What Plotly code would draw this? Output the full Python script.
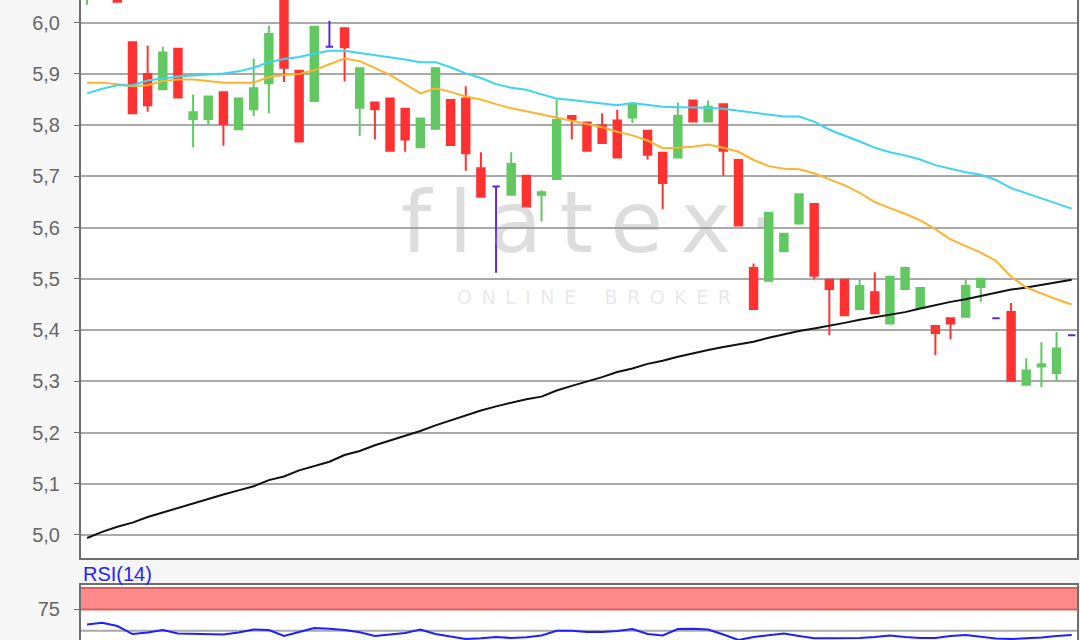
import plotly.graph_objects as go

# ---------------- data ----------------
open_ = [6.060, 6.100, 6.075, 5.962, 5.900, 5.870, 5.949, 5.812, 5.812, 5.864,
         5.792, 5.831, 5.882, 6.060, 5.906, 5.847, 5.953, 5.989, 5.834, 5.844,
         5.852, 5.832, 5.757, 5.793, 5.849, 5.852, 5.716, 5.680, 5.664, 5.701,
         5.664, 5.695, 5.818, 5.805, 5.800, 5.809, 5.815, 5.789, 5.746, 5.737,
         5.848, 5.807, 5.841, 5.732, 5.521, 5.496, 5.554, 5.608, 5.646, 5.498,
         5.498, 5.441, 5.474, 5.413, 5.480, 5.443, 5.408, 5.423, 5.426, 5.484,
         5.423, 5.435, 5.293, 5.329, 5.316, 5.390]
high_ = [6.110, 6.120, 6.080, 5.962, 5.955, 5.953, 5.949, 5.860, 5.856, 5.864,
         5.852, 5.930, 5.994, 6.070, 5.906, 5.992, 6.004, 5.989, 5.911, 5.844,
         5.852, 5.832, 5.813, 5.911, 5.849, 5.876, 5.747, 5.680, 5.747, 5.701,
         5.673, 5.850, 5.818, 5.805, 5.823, 5.830, 5.843, 5.789, 5.746, 5.844,
         5.848, 5.848, 5.841, 5.732, 5.530, 5.629, 5.588, 5.665, 5.646, 5.498,
         5.498, 5.498, 5.513, 5.504, 5.521, 5.482, 5.408, 5.423, 5.498, 5.500,
         5.423, 5.453, 5.345, 5.376, 5.396, 5.390]
low_ = [6.035, 6.070, 6.041, 5.823, 5.826, 5.870, 5.854, 5.757, 5.800, 5.760,
        5.792, 5.818, 5.823, 5.884, 5.768, 5.847, 5.953, 5.885, 5.779, 5.772,
        5.750, 5.748, 5.757, 5.793, 5.761, 5.711, 5.660, 5.512, 5.664, 5.641,
        5.612, 5.695, 5.772, 5.750, 5.765, 5.737, 5.804, 5.733, 5.636, 5.737,
        5.807, 5.807, 5.701, 5.604, 5.441, 5.496, 5.554, 5.608, 5.499, 5.390,
        5.429, 5.441, 5.433, 5.413, 5.480, 5.443, 5.351, 5.382, 5.426, 5.455,
        5.423, 5.301, 5.293, 5.289, 5.301, 5.390]
close_ = [6.090, 6.080, 6.041, 5.823, 5.839, 5.942, 5.854, 5.825, 5.856, 5.802,
          5.852, 5.872, 5.978, 5.912, 5.768, 5.992, 5.953, 5.952, 5.911, 5.831,
          5.750, 5.772, 5.813, 5.911, 5.761, 5.745, 5.660, 5.680, 5.724, 5.641,
          5.669, 5.810, 5.811, 5.750, 5.765, 5.737, 5.841, 5.742, 5.687, 5.818,
          5.807, 5.836, 5.750, 5.604, 5.441, 5.629, 5.588, 5.665, 5.506, 5.480,
          5.429, 5.486, 5.433, 5.504, 5.521, 5.482, 5.394, 5.413, 5.486, 5.500,
          5.423, 5.301, 5.321, 5.333, 5.364, 5.390]

ma_cyan = [5.862, 5.871, 5.878, 5.878, 5.887, 5.891, 5.895, 5.897, 5.899, 5.901,
           5.905, 5.912, 5.923, 5.929, 5.933, 5.940, 5.945, 5.945, 5.941, 5.937,
           5.933, 5.928, 5.923, 5.923, 5.913, 5.901, 5.892, 5.880, 5.873, 5.869,
           5.860, 5.852, 5.849, 5.846, 5.843, 5.839, 5.843, 5.840, 5.836, 5.835,
           5.835, 5.834, 5.832, 5.828, 5.824, 5.820, 5.817, 5.817, 5.807, 5.791,
           5.780, 5.768, 5.756, 5.747, 5.741, 5.733, 5.722, 5.715, 5.708, 5.703,
           5.693, 5.677, 5.667, 5.657, 5.647, 5.637]
ma_orange = [5.883, 5.883, 5.880, 5.876, 5.878, 5.886, 5.889, 5.889, 5.886, 5.883,
             5.883, 5.883, 5.894, 5.898, 5.900, 5.907, 5.919, 5.930, 5.925, 5.912,
             5.898, 5.880, 5.862, 5.872, 5.865, 5.856, 5.850, 5.841, 5.833, 5.827,
             5.821, 5.815, 5.809, 5.803, 5.796, 5.787, 5.780, 5.770, 5.755, 5.756,
             5.758, 5.762, 5.756, 5.748, 5.732, 5.720, 5.715, 5.714, 5.706, 5.694,
             5.683, 5.668, 5.650, 5.638, 5.627, 5.614, 5.597, 5.577, 5.564, 5.551,
             5.535, 5.504, 5.483, 5.471, 5.460, 5.450]
ma_black = [4.994, 5.006, 5.016, 5.024, 5.035, 5.044, 5.052, 5.062, 5.071, 5.079,
            5.087, 5.095, 5.107, 5.114, 5.126, 5.134, 5.143, 5.156, 5.164, 5.175,
            5.184, 5.194, 5.203, 5.214, 5.224, 5.234, 5.243, 5.251, 5.258, 5.265,
            5.270, 5.282, 5.291, 5.299, 5.308, 5.318, 5.325, 5.334, 5.340, 5.348,
            5.355, 5.361, 5.367, 5.372, 5.377, 5.385, 5.392, 5.398, 5.403, 5.408,
            5.414, 5.420, 5.425, 5.430, 5.435, 5.442, 5.449, 5.455, 5.460, 5.466,
            5.472, 5.479, 5.483, 5.488, 5.493, 5.498]
rsi14 = [57.2, 59.3, 55.5, 46.1, 47.9, 50.8, 46.7, 46.1, 46.1, 45.6,
         47.9, 51.4, 50.8, 43.8, 48.5, 53.2, 52.3, 50.8, 48.1, 43.8,
         45.6, 47.3, 51.4, 46.1, 43.2, 40.3, 41.1, 42.6, 41.5, 42.3,
         44.4, 50.0, 50.0, 48.5, 48.5, 49.6, 52.0, 46.1, 44.4, 52.0,
         52.3, 51.4, 45.6, 39.1, 42.6, 44.4, 46.7, 43.8, 41.1, 41.1,
         41.1, 41.5, 42.6, 44.4, 42.6, 41.5, 41.5, 43.8, 45.0, 42.6,
         40.9, 40.3, 40.9, 42.1, 43.8, 45.0]

price_ticks = [5.0, 5.1, 5.2, 5.3, 5.4, 5.5, 5.6, 5.7, 5.8, 5.9, 6.0]
rsi_ticks = [75]

day = list(range(len(close_)))

# ---------------- styling ----------------
RED = "#ff3131"
GREEN = "#62c862"
PURPLE = "#5a2ad6"
AXIS = "#6e6e6e"
GRID = "#a9a9a9"
FONT = "Liberation Sans, Arial, sans-serif"

# split flat candles (open == close) which are drawn in purple
norm = [i for i in day if open_[i] != close_[i]]
flat = [i for i in day if open_[i] == close_[i]]

fig = go.Figure()

fig.add_trace(go.Candlestick(
    x=[day[i] for i in norm],
    open=[open_[i] for i in norm], high=[high_[i] for i in norm],
    low=[low_[i] for i in norm], close=[close_[i] for i in norm],
    increasing=dict(line=dict(color=GREEN, width=2), fillcolor=GREEN),
    decreasing=dict(line=dict(color=RED, width=2), fillcolor=RED),
    whiskerwidth=0, hoverinfo="skip", showlegend=False,
    xaxis="x", yaxis="y"))

fig.add_trace(go.Candlestick(
    x=[day[i] for i in flat],
    open=[open_[i] for i in flat], high=[high_[i] for i in flat],
    low=[low_[i] for i in flat], close=[close_[i] for i in flat],
    increasing=dict(line=dict(color=PURPLE, width=2), fillcolor=PURPLE),
    decreasing=dict(line=dict(color=PURPLE, width=2), fillcolor=PURPLE),
    whiskerwidth=0, hoverinfo="skip", showlegend=False,
    xaxis="x", yaxis="y"))

for vals, col in [(ma_black, "#111111"), (ma_orange, "#fdb32f"), (ma_cyan, "#3dd3f2")]:
    fig.add_trace(go.Scatter(x=day, y=vals, mode="lines",
                             line=dict(color=col, width=2),
                             hoverinfo="skip", showlegend=False,
                             xaxis="x", yaxis="y"))

fig.add_trace(go.Scatter(x=day, y=rsi14, mode="lines",
                         line=dict(color="#2020ff", width=2),
                         hoverinfo="skip", showlegend=False,
                         xaxis="x2", yaxis="y2"))

W, H = 1080, 640
main_bottom = (H - 558) / H
rsi_top = (H - 584.5) / H

xcommon = dict(range=[-0.4, 65.35], showgrid=False, zeroline=False,
               showticklabels=False, ticks="", showline=True,
               linecolor=AXIS, linewidth=2, rangeslider=dict(visible=False))

fig.update_layout(
    width=W, height=H,
    margin=dict(l=81, r=3, t=0, b=0, autoexpand=False),
    paper_bgcolor="#f6f6f6", plot_bgcolor="#ffffff",
    separators=",.",
    showlegend=False,
    hovermode=False,
    font=dict(family=FONT, color="#666666"),
    xaxis=dict(domain=[0, 1], anchor="y", mirror=False, **xcommon),
    yaxis=dict(domain=[main_bottom, 1], anchor="x", range=[4.955, 6.0443],
               tickvals=price_ticks, tickformat=".1f",
               showgrid=True, gridcolor=GRID, gridwidth=2, zeroline=False,
               showline=True, mirror=True, linecolor=AXIS, linewidth=2,
               ticks="outside", ticklen=5, tickwidth=1, tickcolor=AXIS,
               ticklabelstandoff=10,
               tickfont=dict(size=20, color="#666666", family=FONT)),
    xaxis2=dict(domain=[0, 1], anchor="y2", matches="x", mirror=True, **xcommon),
    yaxis2=dict(domain=[0, rsi_top], anchor="x2", range=[39.1, 104.2],
                tickvals=rsi_ticks, showgrid=False, zeroline=False,
                showline=True, mirror=True, linecolor=AXIS, linewidth=2,
                ticks="outside", ticklen=5, tickwidth=1, tickcolor=AXIS,
                ticklabelstandoff=10,
                tickfont=dict(size=20, color="#666666", family=FONT)),
    shapes=[
        dict(type="rect", xref="x2 domain", yref="y2", x0=0, x1=1, y0=75, y1=100,
             fillcolor="#ff8a8a", line=dict(width=0), layer="below"),
        dict(type="line", xref="x2 domain", yref="y2", x0=0, x1=1, y0=75, y1=75,
             line=dict(color="#d65f5f", width=2), layer="below"),
        dict(type="line", xref="x2 domain", yref="y2", x0=0, x1=1, y0=100, y1=100,
             line=dict(color="#d65f5f", width=2), layer="below"),
        dict(type="line", xref="x2 domain", yref="y2", x0=0, x1=1, y0=50, y1=50,
             line=dict(color=GRID, width=2), layer="below"),
    ],
    annotations=[
        dict(text="RSI(14)", xref="paper", yref="paper", x=0, y=(H - 574) / H,
             xanchor="left", yanchor="middle", showarrow=False,
             font=dict(size=20, color="#2424ff", family=FONT)),
        dict(text="f\u2009l\u2009a\u2009t\u2009e\u2009x\u2009\u00b7",
             xref="paper", yref="paper", x=(588 - 81) / 996, y=(H - 222) / H,
             xanchor="center", yanchor="middle", showarrow=False,
             font=dict(size=86, color="rgba(150,150,150,0.32)",
                       family="DejaVu Sans, sans-serif")),
        dict(text="O\u2002N\u2002L\u2002I\u2002N\u2002E\u2003\u2002B\u2002R\u2002O\u2002K\u2002E\u2002R",
             xref="paper", yref="paper", x=(594 - 81) / 996, y=(H - 297) / H,
             xanchor="center", yanchor="middle", showarrow=False,
             font=dict(size=19, color="rgba(150,150,150,0.22)",
                       family="DejaVu Sans, sans-serif")),
    ],
)

fig.write_html("out.html",
               config={"displayModeBar": False, "staticPlot": True},
               post_script="document.body.style.margin='0';"
                           "document.body.style.overflow='hidden';")
